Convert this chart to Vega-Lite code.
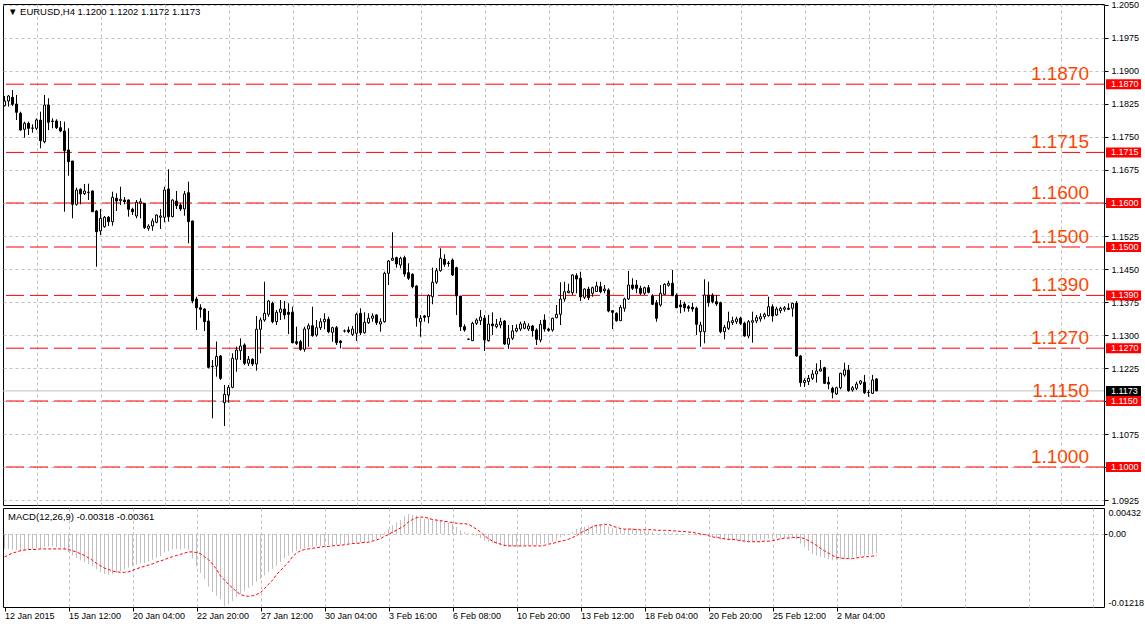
{
"$schema": "https://vega.github.io/schema/vega-lite/v6.json",
"background": "white",
"padding": {"left": 2, "top": 0, "right": 0, "bottom": 0},
"spacing": 1,
"config": {
  "view": {"stroke": "#000000", "strokeWidth": 1},
  "font": "Liberation Sans",
  "scale": {"continuousPadding": 0},
  "axis": {"labelFont": "Liberation Sans", "labelFontSize": 9, "labelColor": "#000000", "tickColor": "#000000", "gridColor": "#C0C0C0", "gridDash": [3, 3], "gridWidth": 1, "domain": false, "title": null, "labelOverlap": false, "labelSeparation": 0},
  "axisY": {"labelOverlap": false},
  "axisRight": {"labelOverlap": false},
  "axisQuantitative": {"labelOverlap": false}
},
"datasets": {
  "levels": [{"v": 1.187}, {"v": 1.1715}, {"v": 1.16}, {"v": 1.15}, {"v": 1.139}, {"v": 1.127}, {"v": 1.115}, {"v": 1.1}],
  "cur": [{"v": 1.1173}],
  "bars": [
{"i":0,"o":1.18211,"h":1.18432,"l":1.18193,"c":1.18318,"m":-0.0025,"s":-0.00385},
{"i":1,"o":1.18318,"h":1.18455,"l":1.18189,"c":1.18432,"m":-0.0025,"s":-0.0035},
{"i":2,"o":1.18402,"h":1.18568,"l":1.18205,"c":1.18243,"m":-0.0026,"s":-0.0032},
{"i":3,"o":1.1825,"h":1.18455,"l":1.17886,"c":1.18061,"m":-0.0027,"s":-0.003},
{"i":4,"o":1.18039,"h":1.18075,"l":1.17643,"c":1.17659,"m":-0.0029,"s":-0.0028},
{"i":5,"o":1.17675,"h":1.17848,"l":1.17484,"c":1.17811,"m":-0.0027,"s":-0.0027},
{"i":6,"o":1.17811,"h":1.17848,"l":1.17546,"c":1.17698,"m":-0.0026,"s":-0.0026},
{"i":7,"o":1.17698,"h":1.17789,"l":1.17598,"c":1.17704,"m":-0.0025,"s":-0.0026},
{"i":8,"o":1.17698,"h":1.17925,"l":1.17659,"c":1.17886,"m":-0.0024,"s":-0.0026},
{"i":9,"o":1.17886,"h":1.18075,"l":1.17243,"c":1.17416,"m":-0.0025,"s":-0.0025},
{"i":10,"o":1.17393,"h":1.18455,"l":1.17357,"c":1.18227,"m":-0.0022,"s":-0.0025},
{"i":11,"o":1.18227,"h":1.1838,"l":1.17659,"c":1.17834,"m":-0.0021,"s":-0.0025},
{"i":12,"o":1.17852,"h":1.17925,"l":1.17698,"c":1.17864,"m":-0.0021,"s":-0.0025},
{"i":13,"o":1.17864,"h":1.17902,"l":1.17682,"c":1.17711,"m":-0.0022,"s":-0.0025},
{"i":14,"o":1.17711,"h":1.17864,"l":1.17607,"c":1.17636,"m":-0.0023,"s":-0.0025},
{"i":15,"o":1.17636,"h":1.17848,"l":1.15802,"c":1.17189,"m":-0.0026,"s":-0.0025},
{"i":16,"o":1.17205,"h":1.17698,"l":1.1662,"c":1.16939,"m":-0.003,"s":-0.0026},
{"i":17,"o":1.16955,"h":1.16955,"l":1.15652,"c":1.1597,"m":-0.0036,"s":-0.0028},
{"i":18,"o":1.1597,"h":1.16348,"l":1.15939,"c":1.16295,"m":-0.004,"s":-0.003},
{"i":19,"o":1.16311,"h":1.16334,"l":1.1597,"c":1.16205,"m":-0.0044,"s":-0.0033},
{"i":20,"o":1.16211,"h":1.16432,"l":1.16182,"c":1.16273,"m":-0.0047,"s":-0.0036},
{"i":21,"o":1.16239,"h":1.16439,"l":1.16068,"c":1.16246,"m":-0.005,"s":-0.004},
{"i":22,"o":1.16273,"h":1.16284,"l":1.15796,"c":1.15802,"m":-0.0054,"s":-0.0044},
{"i":23,"o":1.15818,"h":1.15841,"l":1.14552,"c":1.15348,"m":-0.0059,"s":-0.0049},
{"i":24,"o":1.15364,"h":1.15864,"l":1.15273,"c":1.15652,"m":-0.0064,"s":-0.0053},
{"i":25,"o":1.15461,"h":1.15705,"l":1.15439,"c":1.15675,"m":-0.0067,"s":-0.0057},
{"i":26,"o":1.15675,"h":1.15705,"l":1.15477,"c":1.15575,"m":-0.0068,"s":-0.0059},
{"i":27,"o":1.15575,"h":1.16257,"l":1.15484,"c":1.1613,"m":-0.0067,"s":-0.0062},
{"i":28,"o":1.16107,"h":1.1622,"l":1.15818,"c":1.16045,"m":-0.0065,"s":-0.0063},
{"i":29,"o":1.16052,"h":1.1637,"l":1.15955,"c":1.16084,"m":-0.0062,"s":-0.0064},
{"i":30,"o":1.16068,"h":1.16136,"l":1.1597,"c":1.1603,"m":-0.0059,"s":-0.0064},
{"i":31,"o":1.16068,"h":1.1608,"l":1.15689,"c":1.15857,"m":-0.0056,"s":-0.0063},
{"i":32,"o":1.15857,"h":1.15893,"l":1.15727,"c":1.15802,"m":-0.0054,"s":-0.0061},
{"i":33,"o":1.15705,"h":1.16068,"l":1.15652,"c":1.16016,"m":-0.0051,"s":-0.0058},
{"i":34,"o":1.15993,"h":1.16107,"l":1.15652,"c":1.1603,"m":-0.0049,"s":-0.0056},
{"i":35,"o":1.15993,"h":1.16,"l":1.15409,"c":1.15439,"m":-0.0049,"s":-0.0054},
{"i":36,"o":1.15425,"h":1.15516,"l":1.1537,"c":1.15477,"m":-0.0046,"s":-0.0052},
{"i":37,"o":1.15477,"h":1.15652,"l":1.1537,"c":1.15591,"m":-0.0043,"s":-0.005},
{"i":38,"o":1.15561,"h":1.15743,"l":1.15539,"c":1.15727,"m":-0.004,"s":-0.0047},
{"i":39,"o":1.15675,"h":1.15864,"l":1.15409,"c":1.15705,"m":-0.0037,"s":-0.0045},
{"i":40,"o":1.15675,"h":1.1637,"l":1.15561,"c":1.16295,"m":-0.0031,"s":-0.0043},
{"i":41,"o":1.16318,"h":1.16766,"l":1.15575,"c":1.15689,"m":-0.0029,"s":-0.004},
{"i":42,"o":1.15689,"h":1.16084,"l":1.15675,"c":1.16068,"m":-0.0026,"s":-0.0038},
{"i":43,"o":1.16045,"h":1.16273,"l":1.15864,"c":1.15939,"m":-0.0025,"s":-0.0036},
{"i":44,"o":1.15955,"h":1.15993,"l":1.15818,"c":1.15864,"m":-0.0026,"s":-0.0034},
{"i":45,"o":1.15864,"h":1.16273,"l":1.15711,"c":1.16205,"m":-0.0024,"s":-0.0032},
{"i":46,"o":1.16234,"h":1.16484,"l":1.15084,"c":1.15575,"m":-0.0026,"s":-0.003},
{"i":47,"o":1.15591,"h":1.15602,"l":1.1372,"c":1.13773,"m":-0.0041,"s":-0.003},
{"i":48,"o":1.13818,"h":1.1387,"l":1.13114,"c":1.1362,"m":-0.0054,"s":-0.0031},
{"i":49,"o":1.1362,"h":1.13698,"l":1.13393,"c":1.13584,"m":-0.0065,"s":-0.0033},
{"i":50,"o":1.13591,"h":1.13607,"l":1.13091,"c":1.13302,"m":-0.0075,"s":-0.0038},
{"i":51,"o":1.13318,"h":1.13545,"l":1.12243,"c":1.12266,"m":-0.0088,"s":-0.0043},
{"i":52,"o":1.1228,"h":1.12432,"l":1.11107,"c":1.12289,"m":-0.0097,"s":-0.005},
{"i":53,"o":1.12296,"h":1.12852,"l":1.12052,"c":1.12512,"m":-0.0103,"s":-0.0059},
{"i":54,"o":1.12523,"h":1.12546,"l":1.11977,"c":1.12016,"m":-0.0109,"s":-0.007},
{"i":55,"o":1.11461,"h":1.11864,"l":1.10932,"c":1.11652,"m":-0.0121,"s":-0.0077},
{"i":56,"o":1.11636,"h":1.11864,"l":1.11461,"c":1.11811,"m":-0.0117,"s":-0.0084},
{"i":57,"o":1.11811,"h":1.12584,"l":1.11789,"c":1.1247,"m":-0.0112,"s":-0.009},
{"i":58,"o":1.12448,"h":1.12734,"l":1.12166,"c":1.12659,"m":-0.0105,"s":-0.0096},
{"i":59,"o":1.12643,"h":1.12925,"l":1.12432,"c":1.1275,"m":-0.01,"s":-0.0101},
{"i":60,"o":1.12773,"h":1.12811,"l":1.12318,"c":1.12357,"m":-0.0095,"s":-0.0103},
{"i":61,"o":1.12357,"h":1.12523,"l":1.12296,"c":1.12448,"m":-0.009,"s":-0.0104},
{"i":62,"o":1.12448,"h":1.1247,"l":1.12296,"c":1.12341,"m":-0.0086,"s":-0.0103},
{"i":63,"o":1.12341,"h":1.13432,"l":1.12189,"c":1.1313,"m":-0.008,"s":-0.0101},
{"i":64,"o":1.1313,"h":1.13393,"l":1.12584,"c":1.13341,"m":-0.0075,"s":-0.0098},
{"i":65,"o":1.13341,"h":1.14211,"l":1.13302,"c":1.13493,"m":-0.0069,"s":-0.0091},
{"i":66,"o":1.1347,"h":1.13795,"l":1.13416,"c":1.13773,"m":-0.0063,"s":-0.0084},
{"i":67,"o":1.1372,"h":1.13757,"l":1.13266,"c":1.13302,"m":-0.0058,"s":-0.0077},
{"i":68,"o":1.13302,"h":1.13568,"l":1.13227,"c":1.13516,"m":-0.0053,"s":-0.0068},
{"i":69,"o":1.13516,"h":1.13795,"l":1.13341,"c":1.13591,"m":-0.0047,"s":-0.0061},
{"i":70,"o":1.13591,"h":1.13773,"l":1.13357,"c":1.13455,"m":-0.0041,"s":-0.0054},
{"i":71,"o":1.13516,"h":1.1372,"l":1.13023,"c":1.1347,"m":-0.0036,"s":-0.0047},
{"i":72,"o":1.13516,"h":1.13643,"l":1.12811,"c":1.12825,"m":-0.0031,"s":-0.0038},
{"i":73,"o":1.12848,"h":1.13189,"l":1.12773,"c":1.12811,"m":-0.0028,"s":-0.0032},
{"i":74,"o":1.12848,"h":1.12886,"l":1.12643,"c":1.12675,"m":-0.0025,"s":-0.0028},
{"i":75,"o":1.12675,"h":1.13189,"l":1.1262,"c":1.13136,"m":-0.0024,"s":-0.0026},
{"i":76,"o":1.13136,"h":1.13266,"l":1.12734,"c":1.13211,"m":-0.0022,"s":-0.0025},
{"i":77,"o":1.13211,"h":1.13643,"l":1.12961,"c":1.12984,"m":-0.0021,"s":-0.0024},
{"i":78,"o":1.13,"h":1.13341,"l":1.12961,"c":1.13166,"m":-0.002,"s":-0.0023},
{"i":79,"o":1.13166,"h":1.1338,"l":1.13114,"c":1.13302,"m":-0.002,"s":-0.0022},
{"i":80,"o":1.13302,"h":1.13493,"l":1.1313,"c":1.13357,"m":-0.0019,"s":-0.0021},
{"i":81,"o":1.13357,"h":1.13416,"l":1.13039,"c":1.13075,"m":-0.0019,"s":-0.0021},
{"i":82,"o":1.13061,"h":1.13189,"l":1.12848,"c":1.13166,"m":-0.0019,"s":-0.002},
{"i":83,"o":1.13166,"h":1.13205,"l":1.12773,"c":1.12825,"m":-0.0018,"s":-0.0019},
{"i":84,"o":1.12864,"h":1.12886,"l":1.12698,"c":1.12825,"m":-0.0018,"s":-0.0019},
{"i":85,"o":1.13091,"h":1.13125,"l":1.13057,"c":1.13091,"m":-0.0017,"s":-0.0018},
{"i":86,"o":1.13114,"h":1.13189,"l":1.13039,"c":1.13075,"m":-0.0016,"s":-0.0017},
{"i":87,"o":1.13016,"h":1.13205,"l":1.12977,"c":1.13136,"m":-0.0016,"s":-0.0016},
{"i":88,"o":1.13039,"h":1.13507,"l":1.12864,"c":1.1347,"m":-0.0015,"s":-0.0016},
{"i":89,"o":1.13493,"h":1.13607,"l":1.13,"c":1.13052,"m":-0.0014,"s":-0.0015},
{"i":90,"o":1.13052,"h":1.13516,"l":1.1303,"c":1.13289,"m":-0.0014,"s":-0.0014},
{"i":91,"o":1.1328,"h":1.13493,"l":1.1325,"c":1.1338,"m":-0.0013,"s":-0.0014},
{"i":92,"o":1.1338,"h":1.13493,"l":1.13302,"c":1.13432,"m":-0.0011,"s":-0.0012},
{"i":93,"o":1.13455,"h":1.1347,"l":1.13227,"c":1.1328,"m":-0.0008,"s":-0.001},
{"i":94,"o":1.1325,"h":1.1338,"l":1.13075,"c":1.13302,"m":-0.0005,"s":-0.0008},
{"i":95,"o":1.13302,"h":1.14439,"l":1.1328,"c":1.14402,"m":0.0002,"s":-0.0004},
{"i":96,"o":1.14402,"h":1.14705,"l":1.14136,"c":1.14682,"m":0.0008,"s":-0.0001},
{"i":97,"o":1.14698,"h":1.15334,"l":1.14682,"c":1.14743,"m":0.0014,"s":0.0003},
{"i":98,"o":1.14757,"h":1.1478,"l":1.1453,"c":1.14614,"m":0.0019,"s":0.0006},
{"i":99,"o":1.14591,"h":1.1478,"l":1.14516,"c":1.14743,"m":0.0023,"s":0.001},
{"i":100,"o":1.14757,"h":1.14802,"l":1.14325,"c":1.14386,"m":0.003,"s":0.0014},
{"i":101,"o":1.14416,"h":1.14629,"l":1.1425,"c":1.14289,"m":0.0033,"s":0.002},
{"i":102,"o":1.1438,"h":1.14402,"l":1.14061,"c":1.14098,"m":0.0032,"s":0.0024},
{"i":103,"o":1.14114,"h":1.14136,"l":1.13189,"c":1.13393,"m":0.0031,"s":0.0027},
{"i":104,"o":1.13302,"h":1.13455,"l":1.12961,"c":1.1338,"m":0.0026,"s":0.0028},
{"i":105,"o":1.13432,"h":1.13455,"l":1.13302,"c":1.13402,"m":0.0025,"s":0.0028},
{"i":106,"o":1.13416,"h":1.13925,"l":1.13266,"c":1.13893,"m":0.0025,"s":0.0026},
{"i":107,"o":1.1387,"h":1.1453,"l":1.13698,"c":1.14198,"m":0.0025,"s":0.0024},
{"i":108,"o":1.14198,"h":1.14523,"l":1.14159,"c":1.14461,"m":0.0024,"s":0.0023},
{"i":109,"o":1.14461,"h":1.1497,"l":1.14439,"c":1.14743,"m":0.0023,"s":0.0022},
{"i":110,"o":1.1472,"h":1.14834,"l":1.14552,"c":1.14607,"m":0.0021,"s":0.0021},
{"i":111,"o":1.14636,"h":1.14682,"l":1.14552,"c":1.14625,"m":0.0019,"s":0.002},
{"i":112,"o":1.14705,"h":1.14739,"l":1.14341,"c":1.14364,"m":0.0017,"s":0.0019},
{"i":113,"o":1.1453,"h":1.14552,"l":1.13455,"c":1.13886,"m":0.0012,"s":0.0018},
{"i":114,"o":1.13886,"h":1.13886,"l":1.13091,"c":1.13189,"m":0.0006,"s":0.0017},
{"i":115,"o":1.13189,"h":1.13243,"l":1.13075,"c":1.13114,"m":0.0003,"s":0.0017},
{"i":116,"o":1.12902,"h":1.1292,"l":1.12886,"c":1.12905,"m":0.0001,"s":0.0016},
{"i":117,"o":1.12871,"h":1.13302,"l":1.12864,"c":1.13266,"m":0.0001,"s":0.0012},
{"i":118,"o":1.13266,"h":1.1338,"l":1.13227,"c":1.13341,"m":-0.0003,"s":0.0008},
{"i":119,"o":1.13325,"h":1.13568,"l":1.13227,"c":1.13409,"m":-0.0007,"s":0.0003},
{"i":120,"o":1.1338,"h":1.13455,"l":1.12636,"c":1.12886,"m":-0.0011,"s":-0.0003},
{"i":121,"o":1.12871,"h":1.13455,"l":1.12848,"c":1.1325,"m":-0.0013,"s":-0.0008},
{"i":122,"o":1.1325,"h":1.13516,"l":1.13,"c":1.13211,"m":-0.0015,"s":-0.0012},
{"i":123,"o":1.13189,"h":1.13364,"l":1.13152,"c":1.13243,"m":-0.0017,"s":-0.0015},
{"i":124,"o":1.13227,"h":1.13393,"l":1.13152,"c":1.13302,"m":-0.0019,"s":-0.0017},
{"i":125,"o":1.13318,"h":1.13341,"l":1.12773,"c":1.12796,"m":-0.0021,"s":-0.0019},
{"i":126,"o":1.12789,"h":1.13227,"l":1.12682,"c":1.12925,"m":-0.0021,"s":-0.002},
{"i":127,"o":1.12925,"h":1.13227,"l":1.12886,"c":1.13091,"m":-0.0021,"s":-0.002},
{"i":128,"o":1.13091,"h":1.13243,"l":1.13061,"c":1.13152,"m":-0.002,"s":-0.002},
{"i":129,"o":1.13136,"h":1.13302,"l":1.13091,"c":1.1325,"m":-0.002,"s":-0.002},
{"i":130,"o":1.13152,"h":1.13318,"l":1.1313,"c":1.13257,"m":-0.0019,"s":-0.002},
{"i":131,"o":1.13136,"h":1.13266,"l":1.13091,"c":1.13205,"m":-0.0019,"s":-0.002},
{"i":132,"o":1.13205,"h":1.13227,"l":1.12961,"c":1.13098,"m":-0.0019,"s":-0.002},
{"i":133,"o":1.13114,"h":1.13152,"l":1.12773,"c":1.12902,"m":-0.0019,"s":-0.002},
{"i":134,"o":1.12886,"h":1.13341,"l":1.12834,"c":1.13243,"m":-0.0017,"s":-0.002},
{"i":135,"o":1.13341,"h":1.1347,"l":1.13075,"c":1.13136,"m":-0.0016,"s":-0.0019},
{"i":136,"o":1.13136,"h":1.13166,"l":1.13075,"c":1.13107,"m":-0.0015,"s":-0.0017},
{"i":137,"o":1.13114,"h":1.13393,"l":1.13075,"c":1.1338,"m":-0.0013,"s":-0.0016},
{"i":138,"o":1.13393,"h":1.13682,"l":1.1338,"c":1.1347,"m":-0.001,"s":-0.0014},
{"i":139,"o":1.1347,"h":1.14198,"l":1.13227,"c":1.13818,"m":-0.0006,"s":-0.0012},
{"i":140,"o":1.13818,"h":1.14211,"l":1.13757,"c":1.13984,"m":-0.0003,"s":-0.0011},
{"i":141,"o":1.13961,"h":1.14166,"l":1.13948,"c":1.14,"m":-0.0001,"s":-0.0009},
{"i":142,"o":1.13961,"h":1.1438,"l":1.13909,"c":1.14364,"m":0.0003,"s":-0.0006},
{"i":143,"o":1.14348,"h":1.14402,"l":1.13948,"c":1.14273,"m":0.0008,"s":-0.0003},
{"i":144,"o":1.14289,"h":1.14439,"l":1.13773,"c":1.13864,"m":0.001,"s":0.0002},
{"i":145,"o":1.13857,"h":1.14061,"l":1.13818,"c":1.14045,"m":0.0012,"s":0.0005},
{"i":146,"o":1.14045,"h":1.14098,"l":1.13795,"c":1.13848,"m":0.0014,"s":0.0008},
{"i":147,"o":1.13948,"h":1.14098,"l":1.1387,"c":1.14075,"m":0.0014,"s":0.0012},
{"i":148,"o":1.13989,"h":1.14211,"l":1.13984,"c":1.14114,"m":0.0016,"s":0.0014},
{"i":149,"o":1.14098,"h":1.14211,"l":1.13948,"c":1.13984,"m":0.0015,"s":0.0015},
{"i":150,"o":1.14007,"h":1.14136,"l":1.13948,"c":1.14045,"m":0.0014,"s":0.0016},
{"i":151,"o":1.14023,"h":1.14061,"l":1.13516,"c":1.13545,"m":0.0012,"s":0.0016},
{"i":152,"o":1.13552,"h":1.13557,"l":1.13136,"c":1.13516,"m":0.001,"s":0.0013},
{"i":153,"o":1.13493,"h":1.13516,"l":1.13302,"c":1.13325,"m":0.0009,"s":0.0011},
{"i":154,"o":1.13325,"h":1.13682,"l":1.13318,"c":1.1363,"m":0.0009,"s":0.0009},
{"i":155,"o":1.13607,"h":1.13848,"l":1.1353,"c":1.13818,"m":0.0008,"s":0.0008},
{"i":156,"o":1.13818,"h":1.14455,"l":1.13795,"c":1.14136,"m":0.0009,"s":0.0008},
{"i":157,"o":1.14136,"h":1.14289,"l":1.14023,"c":1.14061,"m":0.0009,"s":0.0008},
{"i":158,"o":1.14136,"h":1.1425,"l":1.13948,"c":1.14061,"m":0.0008,"s":0.0007},
{"i":159,"o":1.14061,"h":1.1412,"l":1.13909,"c":1.13948,"m":0.0007,"s":0.0007},
{"i":160,"o":1.13948,"h":1.14098,"l":1.13909,"c":1.14075,"m":0.0005,"s":0.0007},
{"i":161,"o":1.14075,"h":1.14136,"l":1.13948,"c":1.1397,"m":0.0004,"s":0.0007},
{"i":162,"o":1.13893,"h":1.13925,"l":1.13682,"c":1.13698,"m":0.0003,"s":0.0007},
{"i":163,"o":1.13734,"h":1.13795,"l":1.13302,"c":1.1338,"m":0.0001,"s":0.0006},
{"i":164,"o":1.13682,"h":1.14136,"l":1.13643,"c":1.13948,"m":0.0001,"s":0.0006},
{"i":165,"o":1.13925,"h":1.14175,"l":1.13909,"c":1.14152,"m":0.0002,"s":0.0006},
{"i":166,"o":1.1413,"h":1.14234,"l":1.14098,"c":1.14175,"m":0.0003,"s":0.0006},
{"i":167,"o":1.14175,"h":1.14477,"l":1.13886,"c":1.13893,"m":0.0002,"s":0.0005},
{"i":168,"o":1.13909,"h":1.13948,"l":1.13607,"c":1.1362,"m":0.0001,"s":0.0005},
{"i":169,"o":1.13682,"h":1.13795,"l":1.13493,"c":1.13643,"m":-0.0001,"s":0.0004},
{"i":170,"o":1.13705,"h":1.13757,"l":1.1353,"c":1.1362,"m":0.0,"s":0.0004},
{"i":171,"o":1.13643,"h":1.13682,"l":1.1353,"c":1.13607,"m":0.0,"s":0.0003},
{"i":172,"o":1.1363,"h":1.13734,"l":1.1353,"c":1.13591,"m":-0.0001,"s":0.0003},
{"i":173,"o":1.13607,"h":1.13643,"l":1.13,"c":1.13243,"m":-0.0002,"s":0.0001},
{"i":174,"o":1.13075,"h":1.13302,"l":1.12734,"c":1.13227,"m":-0.0003,"s":0.0},
{"i":175,"o":1.13075,"h":1.14266,"l":1.12811,"c":1.13909,"m":-0.0001,"s":-0.0001},
{"i":176,"o":1.13909,"h":1.14211,"l":1.13643,"c":1.13734,"m":-0.0003,"s":-0.0003},
{"i":177,"o":1.13909,"h":1.13948,"l":1.1372,"c":1.13757,"m":-0.0005,"s":-0.0005},
{"i":178,"o":1.13757,"h":1.13909,"l":1.13659,"c":1.13705,"m":-0.0007,"s":-0.0006},
{"i":179,"o":1.13734,"h":1.13757,"l":1.13039,"c":1.13075,"m":-0.0009,"s":-0.0007},
{"i":180,"o":1.13075,"h":1.13227,"l":1.12902,"c":1.13175,"m":-0.001,"s":-0.0008},
{"i":181,"o":1.13152,"h":1.1353,"l":1.13114,"c":1.13302,"m":-0.0011,"s":-0.0009},
{"i":182,"o":1.1328,"h":1.13416,"l":1.13227,"c":1.13325,"m":-0.0011,"s":-0.0009},
{"i":183,"o":1.13302,"h":1.13416,"l":1.1325,"c":1.13364,"m":-0.0011,"s":-0.001},
{"i":184,"o":1.1338,"h":1.13416,"l":1.13227,"c":1.13266,"m":-0.0012,"s":-0.0011},
{"i":185,"o":1.13266,"h":1.13302,"l":1.12961,"c":1.12977,"m":-0.0013,"s":-0.0012},
{"i":186,"o":1.12977,"h":1.13341,"l":1.12925,"c":1.13302,"m":-0.0012,"s":-0.0013},
{"i":187,"o":1.13289,"h":1.1353,"l":1.12825,"c":1.13325,"m":-0.0012,"s":-0.0013},
{"i":188,"o":1.13318,"h":1.13455,"l":1.13266,"c":1.13393,"m":-0.0011,"s":-0.0013},
{"i":189,"o":1.13364,"h":1.13493,"l":1.13302,"c":1.13416,"m":-0.001,"s":-0.0013},
{"i":190,"o":1.13416,"h":1.13507,"l":1.13357,"c":1.1347,"m":-0.0009,"s":-0.0012},
{"i":191,"o":1.13439,"h":1.1387,"l":1.13416,"c":1.13643,"m":-0.0008,"s":-0.0012},
{"i":192,"o":1.13643,"h":1.13698,"l":1.13302,"c":1.13432,"m":-0.0008,"s":-0.0011},
{"i":193,"o":1.13455,"h":1.13643,"l":1.13432,"c":1.13591,"m":-0.0007,"s":-0.001},
{"i":194,"o":1.13552,"h":1.13643,"l":1.13493,"c":1.13607,"m":-0.0006,"s":-0.0008},
{"i":195,"o":1.13584,"h":1.13659,"l":1.1353,"c":1.1362,"m":-0.0006,"s":-0.0007},
{"i":196,"o":1.13607,"h":1.1372,"l":1.13568,"c":1.13584,"m":-0.0006,"s":-0.0007},
{"i":197,"o":1.13607,"h":1.13734,"l":1.13416,"c":1.1372,"m":-0.0005,"s":-0.0006},
{"i":198,"o":1.1372,"h":1.13773,"l":1.12507,"c":1.12523,"m":-0.0009,"s":-0.0006},
{"i":199,"o":1.12523,"h":1.12546,"l":1.11825,"c":1.1192,"m":-0.0016,"s":-0.0006},
{"i":200,"o":1.1192,"h":1.12016,"l":1.11818,"c":1.11966,"m":-0.0022,"s":-0.0008},
{"i":201,"o":1.11943,"h":1.12091,"l":1.11864,"c":1.12016,"m":-0.0028,"s":-0.0011},
{"i":202,"o":1.12016,"h":1.12205,"l":1.11977,"c":1.12114,"m":-0.0033,"s":-0.0015},
{"i":203,"o":1.12114,"h":1.12357,"l":1.1192,"c":1.12182,"m":-0.0036,"s":-0.0019},
{"i":204,"o":1.12182,"h":1.12432,"l":1.12166,"c":1.12227,"m":-0.0038,"s":-0.0024},
{"i":205,"o":1.12257,"h":1.1228,"l":1.11886,"c":1.11902,"m":-0.004,"s":-0.0028},
{"i":206,"o":1.11925,"h":1.12052,"l":1.11766,"c":1.11886,"m":-0.0042,"s":-0.0032},
{"i":207,"o":1.11789,"h":1.11825,"l":1.11561,"c":1.11698,"m":-0.0044,"s":-0.0036},
{"i":208,"o":1.11659,"h":1.11825,"l":1.11636,"c":1.11802,"m":-0.0044,"s":-0.0039},
{"i":209,"o":1.11802,"h":1.12143,"l":1.11766,"c":1.1213,"m":-0.0042,"s":-0.004},
{"i":210,"o":1.12091,"h":1.12371,"l":1.12052,"c":1.12205,"m":-0.0041,"s":-0.0041},
{"i":211,"o":1.12205,"h":1.12318,"l":1.11711,"c":1.11734,"m":-0.004,"s":-0.0041},
{"i":212,"o":1.1175,"h":1.11841,"l":1.11711,"c":1.11802,"m":-0.0039,"s":-0.0041},
{"i":213,"o":1.11789,"h":1.11939,"l":1.1175,"c":1.11886,"m":-0.0038,"s":-0.004},
{"i":214,"o":1.11902,"h":1.11977,"l":1.11864,"c":1.11955,"m":-0.0036,"s":-0.0039},
{"i":215,"o":1.11925,"h":1.12091,"l":1.11659,"c":1.11689,"m":-0.0036,"s":-0.0038},
{"i":216,"o":1.11689,"h":1.1175,"l":1.11598,"c":1.11693,"m":-0.0035,"s":-0.0038},
{"i":217,"o":1.11675,"h":1.12091,"l":1.11659,"c":1.11977,"m":-0.0034,"s":-0.0037},
{"i":218,"o":1.12,"h":1.1202,"l":1.1172,"c":1.1173,"m":-0.00318,"s":-0.00361}
  ]
},
"vconcat": [
  {
    "width": 1101,
    "height": 501,
    "encoding": {
      "y": {"type": "quantitative", "scale": {"domain": [1.091364, 1.205227], "nice": false, "zero": false, "padding": 0},
            "axis": {"orient": "right", "values": [1.0925,1.1,1.1075,1.115,1.1225,1.13,1.1375,1.145,1.1525,1.16,1.1675,1.175,1.1825,1.19,1.1975,1.205], "format": ".4f", "tickSize": 4, "labelPadding": 3, "labelOverlap": false, "labelSeparation": 0, "labelBound": false, "grid": true, "domain": false, "title": null}}
    },
    "layer": [
      {
        "data": {"name": "cur"},
        "mark": {"type": "rule", "color": "#C0C0C0", "strokeWidth": 1},
        "encoding": {"y": {"field": "v", "type": "quantitative"}}
      },
      {
        "data": {"name": "levels"},
        "mark": {"type": "rule", "color": "#FF0000", "strokeWidth": 1, "strokeDash": [18, 6]},
        "encoding": {"y": {"field": "v", "type": "quantitative"}}
      },
      {
        "data": {"name": "bars"},
        "mark": {"type": "rule", "color": "#000000", "strokeWidth": 1},
        "encoding": {
          "x": {"field": "i", "type": "quantitative", "scale": {"domain": [-0.375, 274.875], "nice": false, "zero": false, "padding": 0},
                "axis": {"values": [8,16,24,32,40,48,56,64,72,80,88,96,104,112,120,128,136,144,152,160,168,176,184,192,200,208,216,224,232,240,248,256,264,272], "labels": false, "ticks": false, "domain": false, "grid": true, "title": null, "minExtent": 0, "maxExtent": 0, "offset": 0}},
          "y": {"field": "l", "type": "quantitative"},
          "y2": {"field": "h"}
        }
      },
      {
        "data": {"name": "bars"},
        "mark": {"type": "bar", "width": 2, "stroke": "#000000", "strokeWidth": 1},
        "encoding": {
          "x": {"field": "i", "type": "quantitative", "scale": {"domain": [-0.375, 274.875], "nice": false, "zero": false, "padding": 0}},
          "y": {"field": "o", "type": "quantitative"},
          "y2": {"field": "c"},
          "fill": {"condition": {"test": "datum.c >= datum.o", "value": "#FFFFFF"}, "value": "#000000"}
        }
      },
      {
        "data": {"name": "levels"},
        "mark": {"type": "text", "align": "right", "baseline": "alphabetic", "dy": -4, "fontSize": 19, "font": "Liberation Sans", "color": "#FF4500", "clip": false},
        "encoding": {
          "x": {"datum": 271.125, "type": "quantitative"},
          "y": {"field": "v", "type": "quantitative"},
          "text": {"field": "v", "type": "quantitative", "format": ".4f"}
        }
      },
      {
        "data": {"name": "levels"},
        "mark": {"type": "bar", "height": 10, "color": "#FF0000", "clip": false},
        "encoding": {
          "x": {"datum": 275.375, "type": "quantitative"},
          "x2": {"datum": 284.125},
          "y": {"field": "v", "type": "quantitative"}
        }
      },
      {
        "data": {"name": "cur"},
        "mark": {"type": "bar", "height": 10, "color": "#000000", "clip": false},
        "encoding": {
          "x": {"datum": 275.375, "type": "quantitative"},
          "x2": {"datum": 284.125},
          "y": {"field": "v", "type": "quantitative"}
        }
      },
      {
        "data": {"name": "levels"},
        "mark": {"type": "text", "align": "left", "baseline": "middle", "fontSize": 9, "font": "Liberation Sans", "color": "#FFFFFF", "clip": false},
        "encoding": {
          "x": {"datum": 276.625, "type": "quantitative"},
          "y": {"field": "v", "type": "quantitative"},
          "text": {"field": "v", "type": "quantitative", "format": ".4f"}
        }
      },
      {
        "data": {"name": "cur"},
        "mark": {"type": "text", "align": "left", "baseline": "middle", "fontSize": 9, "font": "Liberation Sans", "color": "#FFFFFF", "clip": false},
        "encoding": {
          "x": {"datum": 276.625, "type": "quantitative"},
          "y": {"field": "v", "type": "quantitative"},
          "text": {"field": "v", "type": "quantitative", "format": ".4f"}
        }
      },
      {
        "data": {"values": [{"t": "▼ EURUSD,H4  1.1200 1.1202 1.1172 1.1173"}]},
        "mark": {"type": "text", "align": "left", "baseline": "middle", "fontSize": 9.5, "font": "Liberation Sans", "color": "#000000"},
        "encoding": {
          "x": {"datum": 0.875, "type": "quantitative"},
          "y": {"datum": 1.20341, "type": "quantitative"},
          "text": {"field": "t"}
        }
      }
    ]
  },
  {
    "width": 1101,
    "height": 99,
    "layer": [
      {
        "data": {"name": "bars"},
        "mark": {"type": "rule", "color": "#C0C0C0", "strokeWidth": 1},
        "encoding": {
          "x": {"field": "i", "type": "quantitative", "scale": {"domain": [-0.375, 274.875], "nice": false, "zero": false, "padding": 0},
                "axis": {"values": [0,8,16,24,32,40,48,56,64,72,80,88,96,104,112,120,128,136,144,152,160,168,176,184,192,200,208,216,224,232,240,248,256,264,272],
                         "labelExpr": "(datum.value % 16 == 0 && datum.value <= 208) ? ['12 Jan 2015','15 Jan 12:00','20 Jan 04:00','22 Jan 20:00','27 Jan 12:00','30 Jan 04:00','3 Feb 16:00','6 Feb 08:00','10 Feb 20:00','13 Feb 12:00','18 Feb 04:00','20 Feb 20:00','25 Feb 12:00','2 Mar 04:00'][datum.value / 16] : ''",
                         "labelAlign": "left", "labelFlush": false, "labelOverlap": false, "labelPadding": 0, "tickSize": 4,
                         "tickOpacity": {"condition": {"test": "datum.value % 16 == 0 && datum.value <= 208", "value": 1}, "value": 0},
                         "gridOpacity": {"condition": {"test": "datum.value == 0", "value": 0}, "value": 1},
                         "grid": true, "domain": false, "title": null}},
          "y": {"field": "m", "type": "quantitative", "scale": {"domain": [-0.01218, 0.00432], "nice": false, "zero": false, "padding": 0},
                "axis": {"orient": "right", "values": [-0.01218, 0, 0.00432], "labelExpr": "datum.value == 0 ? '0.00' : replace(format(datum.value, '.5f'), '\u2212', '-')", "labelFlush": true, "labelOverlap": false, "tickSize": 3, "labelPadding": 1,
                         "tickOpacity": {"condition": {"test": "datum.value == 0", "value": 1}, "value": 0},
                         "grid": true, "gridOpacity": {"condition": {"test": "datum.value == 0", "value": 1}, "value": 0}, "domain": false, "title": null}},
          "y2": {"datum": 0}
        }
      },
      {
        "data": {"name": "bars"},
        "mark": {"type": "line", "color": "#FF0000", "strokeWidth": 1, "strokeDash": [3, 2]},
        "encoding": {
          "x": {"field": "i", "type": "quantitative", "scale": {"domain": [-0.375, 274.875], "nice": false, "zero": false, "padding": 0}},
          "y": {"field": "s", "type": "quantitative", "scale": {"domain": [-0.01218, 0.00432], "nice": false, "zero": false, "padding": 0}}
        }
      },
      {
        "data": {"values": [{"t": "MACD(12,26,9) -0.00318 -0.00361"}]},
        "mark": {"type": "text", "align": "left", "baseline": "middle", "fontSize": 9.5, "font": "Liberation Sans", "color": "#000000"},
        "encoding": {
          "x": {"datum": 0.875, "type": "quantitative"},
          "y": {"datum": 0.00287, "type": "quantitative"},
          "text": {"field": "t"}
        }
      }
    ]
  }
]
}
